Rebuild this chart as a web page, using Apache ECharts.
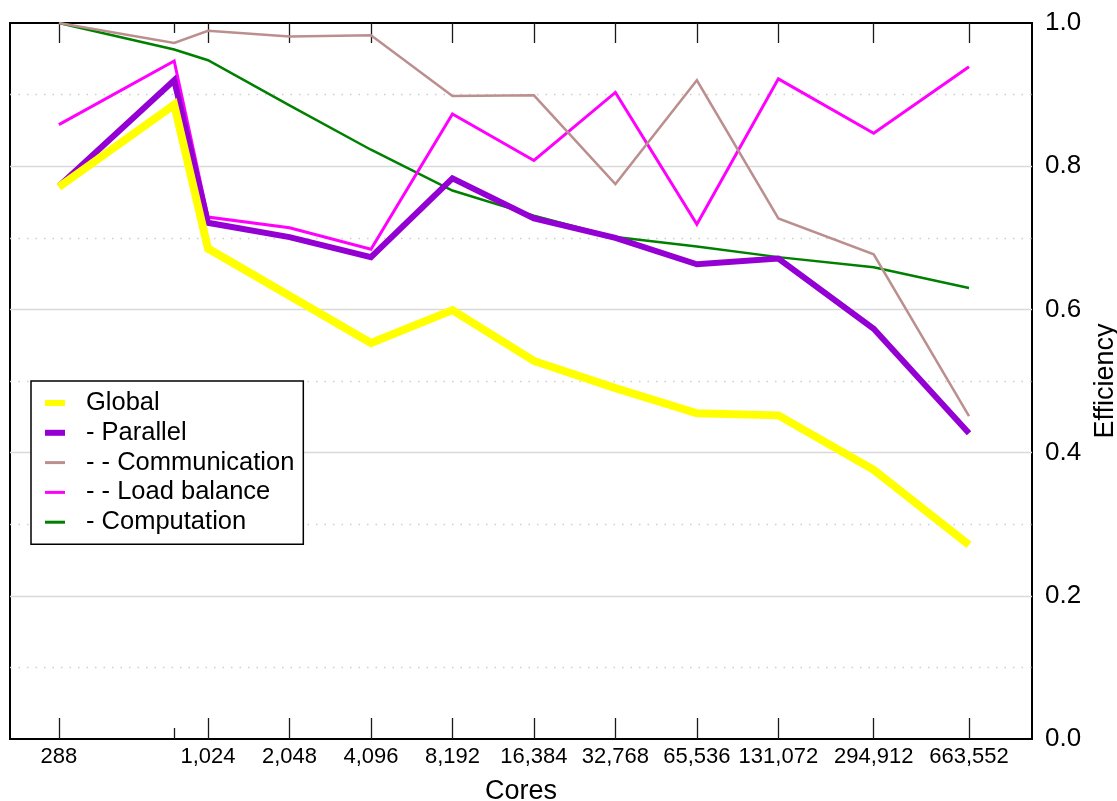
<!DOCTYPE html>
<html>
<head>
<meta charset="utf-8">
<title>Efficiency vs Cores</title>
<script src="https://cdn.jsdelivr.net/npm/echarts@6/dist/echarts.min.js"></script>
<style>
  html, body { margin: 0; padding: 0; background: #fff; }
  #chart { width: 1117px; height: 801px; }
</style>
</head>
<body>
<div id="chart"></div>
<script>
// Core counts of each run (x positions, log2 scale)
const cores = [288, 768, 1024, 2048, 4096, 8192, 16384, 32768, 65536, 131072, 294912, 663552];
// Labelled ticks and the unlabelled short tick
const tickCores = [288, 1024, 2048, 4096, 8192, 16384, 32768, 65536, 131072, 294912, 663552];
const shortTickCores = [768];

// Efficiency metrics per run
const globalEff        = [0.771, 0.886, 0.685, 0.619, 0.553, 0.599, 0.528, 0.490, 0.455, 0.452, 0.376, 0.271];
const parallelEff      = [0.772, 0.920, 0.721, 0.701, 0.673, 0.783, 0.727, 0.700, 0.663, 0.671, 0.573, 0.427];
const communicationEff = [1.000, 0.972, 0.989, 0.981, 0.983, 0.898, 0.899, 0.775, 0.920, 0.727, 0.677, 0.451];
const loadBalanceEff   = [0.858, 0.947, 0.729, 0.714, 0.684, 0.873, 0.808, 0.903, 0.719, 0.922, 0.846, 0.939];
const computationEff   = [1.000, 0.963, 0.948, 0.885, 0.823, 0.766, 0.731, 0.701, 0.688, 0.673, 0.659, 0.630];

const FONT = "'Liberation Sans', Arial, Helvetica, sans-serif";
const X_MIN = 190, X_MAX = 1134000;

const pairs = vals => cores.map((c, i) => [c, vals[i]]);

const tickStyle = { color: '#1a1a1a', width: 1.3 };
const xBase = {
  type: 'log', logBase: 2, min: X_MIN, max: X_MAX,
  splitLine: { show: false }, minorTick: { show: false }, minorSplitLine: { show: false },
  axisLine: { show: false }, axisLabel: { show: false }
};

function lineSeries(name, vals, color, width) {
  return {
    name, type: 'line', data: pairs(vals), symbol: 'none', showSymbol: false,
    silent: true, animation: false,
    itemStyle: { color },
    lineStyle: { color, width, join: 'miter', cap: 'butt' },
    emphasis: { disabled: true }
  };
}

const thick = 'path://M0,0H20V6H0Z';
const thin = 'path://M0,0H20V3H0Z';

const chart = echarts.init(document.getElementById('chart'), null, { renderer: 'canvas' });
chart.setOption({
  animation: false,
  backgroundColor: '#fff',
  textStyle: { fontFamily: FONT, color: '#000' },
  grid: {
    left: 10, right: 85, top: 23, bottom: 62,
    show: true, borderColor: '#000', borderWidth: 2, backgroundColor: 'transparent',
    outerBoundsMode: 'none', containLabel: false
  },
  legend: {
    orient: 'vertical', left: 31, top: 381,
    padding: [9, 9, 9, 14],
    backgroundColor: '#fff', borderColor: '#000', borderWidth: 1.5, borderRadius: 0,
    itemWidth: 20, itemHeight: 14, itemGap: 3.8,
    selectedMode: false,
    itemStyle: { borderWidth: 0 },
    textStyle: { fontFamily: FONT, fontSize: 25.5, color: '#000', lineHeight: 24, padding: [0, 0, 0, 16] },
    data: [
      { name: 'Global', icon: thick },
      { name: '- Parallel', icon: thick },
      { name: '- - Communication', icon: thin },
      { name: '- - Load balance', icon: thin },
      { name: '- Computation', icon: thin }
    ]
  },
  xAxis: [
    Object.assign({}, xBase, {
      position: 'bottom',
      axisTick: { show: true, inside: true, length: 21, customValues: tickCores, lineStyle: tickStyle },
      axisLabel: {
        show: true, customValues: tickCores, fontFamily: FONT, fontSize: 22, color: '#000', margin: 7,
        formatter: v => Math.round(v).toLocaleString('en-US')
      },
      name: 'Cores', nameLocation: 'middle', nameGap: 39,
      nameTextStyle: { fontFamily: FONT, fontSize: 27, color: '#000' }
    }),
    Object.assign({}, xBase, {
      position: 'top',
      axisTick: { show: true, inside: true, length: 20, customValues: tickCores, lineStyle: tickStyle }
    }),
    Object.assign({}, xBase, {
      position: 'bottom',
      axisTick: { show: true, inside: true, length: 11, customValues: shortTickCores, lineStyle: tickStyle }
    }),
    Object.assign({}, xBase, {
      position: 'top',
      axisTick: { show: true, inside: true, length: 10, customValues: shortTickCores, lineStyle: tickStyle }
    })
  ],
  yAxis: {
    type: 'value', position: 'right', min: 0, max: 1, interval: 0.2,
    axisLine: { show: false }, axisTick: { show: false },
    axisLabel: { fontFamily: FONT, fontSize: 26, color: '#000', margin: 13, formatter: v => v.toFixed(1) },
    splitLine: { show: true, showMinLine: false, showMaxLine: false, lineStyle: { color: '#d9d9d9', width: 1.3 } },
    minorTick: { show: false, splitNumber: 2 },
    minorSplitLine: { show: true, lineStyle: { color: '#cfcfcf', width: 1.3, type: [1.5, 7] } },
    name: 'Efficiency', nameLocation: 'middle', nameGap: 52,
    nameTextStyle: { fontFamily: FONT, fontSize: 27, color: '#000' }
  },
  series: [
    lineSeries('- Computation', computationEff, '#008000', 2.5),
    lineSeries('- - Load balance', loadBalanceEff, '#ff00ff', 3),
    lineSeries('- - Communication', communicationEff, '#bc8f8f', 2.5),
    lineSeries('- Parallel', parallelEff, '#9400d3', 6),
    lineSeries('Global', globalEff, '#ffff00', 8)
  ]
});
</script>
</body>
</html>
